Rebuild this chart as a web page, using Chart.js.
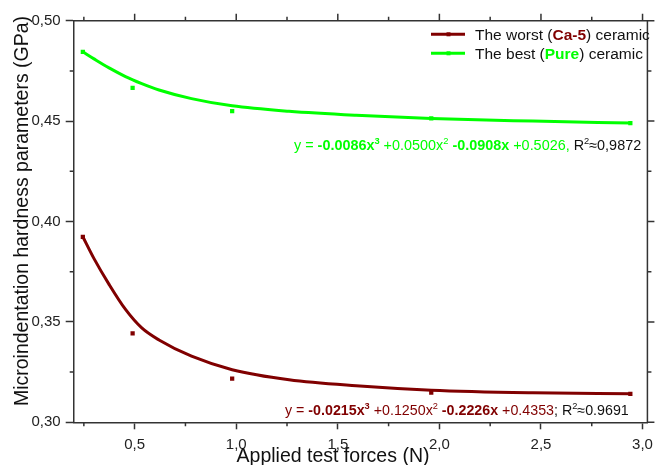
<!DOCTYPE html>
<html>
<head>
<meta charset="utf-8">
<script src="https://cdn.jsdelivr.net/npm/chart.js@4.4.0/dist/chart.umd.min.js"></script>
<style>
  html, body { margin: 0; padding: 0; background: #fff; }
</style>
</head>
<body>
<canvas id="graficoDureza" width="660" height="465"></canvas>
<script>
// Cargas aplicadas (N) y durezas medidas (GPa)
const fuerzas = [0.245, 0.49, 0.98, 1.96, 2.94];
const durezaCa5 = [0.3924, 0.3443, 0.3218, 0.3148, 0.3142];
const durezaPure = [0.4845, 0.4665, 0.4550, 0.4513, 0.4490];

// Curvas de ajuste
const ajusteX = [0.245, 0.30, 0.374, 0.455, 0.535, 0.62, 0.78, 0.98, 1.26, 1.59, 1.96, 2.46, 2.94];
const ajusteCa5 = [0.3924, 0.3815, 0.3687, 0.3562, 0.3470, 0.3410, 0.3329, 0.3262, 0.3212, 0.3182, 0.3160, 0.3147, 0.3142];
const ajustePure = [0.4845, 0.4810, 0.4765, 0.4722, 0.4687, 0.4655, 0.4612, 0.4576, 0.4549, 0.4529, 0.4513, 0.4500, 0.4490];

// Marcas de los ejes
const ticksX = [0.5, 1.0, 1.5, 2.0, 2.5, 3.0];
const menoresX = [0.25, 0.75, 1.25, 1.75, 2.25, 2.75];
const ticksY = [0.30, 0.35, 0.40, 0.45, 0.50];
const menoresY = [0.325, 0.375, 0.425, 0.475];

const ROJO = '#800000';
const VERDE = '#00ff00';
const FUENTE = '"Liberation Sans", Arial, sans-serif';
const EJE = '#333';

const puntos = (xs, ys) => xs.map((v, i) => ({ x: v, y: ys[i] }));
const coma = (v, d) => v.toFixed(d).replace('.', ',');

// Dibuja un texto con partes en negrita / superíndice / colores distintos
function dibujarPartes(ctx, partes, x, y, tam) {
    let cx = x;
    partes.forEach((p) => {
        const t = p.sup ? tam * 0.65 : tam;
        ctx.font = (p.bold ? 'bold ' : '') + t + 'px ' + FUENTE;
        ctx.fillStyle = p.color;
        ctx.fillText(p.t, cx, p.sup ? y - tam * 0.42 : y);
        cx += ctx.measureText(p.t).width;
    });
}

const extras = {
    id: 'extras',
    afterDraw(chart) {
        const { ctx, chartArea: a, scales } = chart;
        const x = scales.x, y = scales.y;
        ctx.save();

        // Marco superior y derecho con sus marcas
        ctx.strokeStyle = EJE;
        ctx.lineWidth = 1.5;
        ctx.beginPath();
        ctx.moveTo(a.left, a.top);
        ctx.lineTo(a.right, a.top);
        ctx.lineTo(a.right, a.bottom);
        ctx.stroke();

        ctx.beginPath();
        ticksX.forEach((v) => {
            const px = x.getPixelForValue(v);
            ctx.moveTo(px, a.top); ctx.lineTo(px, a.top - 7);
        });
        menoresX.forEach((v) => {
            const px = x.getPixelForValue(v);
            ctx.moveTo(px, a.top); ctx.lineTo(px, a.top - 4);
            ctx.moveTo(px, a.bottom); ctx.lineTo(px, a.bottom + 4);
        });
        ticksY.forEach((v) => {
            const py = y.getPixelForValue(v);
            ctx.moveTo(a.right, py); ctx.lineTo(a.right + 7, py);
        });
        menoresY.forEach((v) => {
            const py = y.getPixelForValue(v);
            ctx.moveTo(a.left, py); ctx.lineTo(a.left - 4, py);
            ctx.moveTo(a.right, py); ctx.lineTo(a.right + 4, py);
        });
        ctx.stroke();

        // Títulos de los ejes
        ctx.fillStyle = '#111';
        ctx.font = '19.5px ' + FUENTE;
        ctx.textAlign = 'center';
        ctx.textBaseline = 'middle';
        ctx.fillText('Applied test forces (N)', 333, 457);
        ctx.save();
        ctx.translate(23, 211);
        ctx.rotate(-Math.PI / 2);
        ctx.fillText('Microindentation hardness parameters (GPa)', 0, 0);
        ctx.restore();

        // Leyenda
        ctx.textAlign = 'left';
        ctx.textBaseline = 'alphabetic';
        [[ROJO, 34.3, 'The worst (', 'Ca-5', ') ceramic', 40],
         [VERDE, 53.3, 'The best (', 'Pure', ') ceramic', 59.3]].forEach(([c, ly, t1, t2, t3, by]) => {
            ctx.strokeStyle = c;
            ctx.lineWidth = 3;
            ctx.beginPath();
            ctx.moveTo(431, ly); ctx.lineTo(465, ly);
            ctx.stroke();
            ctx.fillStyle = c;
            ctx.fillRect(446.5, ly - 2, 4, 4);
            dibujarPartes(ctx, [
                { t: t1, color: '#111' },
                { t: t2, color: c, bold: true },
                { t: t3, color: '#111' },
            ], 475, by, 15.5);
        });

        // Ecuaciones de ajuste
        dibujarPartes(ctx, [
            { t: 'y = ', color: VERDE },
            { t: '-0.0086x', color: VERDE, bold: true },
            { t: '3', color: VERDE, bold: true, sup: true },
            { t: ' +0.0500x', color: VERDE },
            { t: '2', color: VERDE, sup: true },
            { t: ' -0.0908x', color: VERDE, bold: true },
            { t: ' +0.5026, ', color: VERDE },
            { t: 'R', color: '#111' },
            { t: '2', color: '#111', sup: true },
            { t: '\u22480,9872', color: '#111' },
        ], 294, 150, 14.4);
        dibujarPartes(ctx, [
            { t: 'y = ', color: ROJO },
            { t: '-0.0215x', color: ROJO, bold: true },
            { t: '3', color: ROJO, bold: true, sup: true },
            { t: ' +0.1250x', color: ROJO },
            { t: '2', color: ROJO, sup: true },
            { t: ' -0.2226x', color: ROJO, bold: true },
            { t: ' +0.4353', color: ROJO },
            { t: '; R', color: '#111' },
            { t: '2', color: '#111', sup: true },
            { t: '\u22480.9691', color: '#111' },
        ], 285, 415, 14.25);

        ctx.restore();
    },
};

new Chart(document.getElementById('graficoDureza'), {
    type: 'scatter',
    data: {
        datasets: [
            {
                label: 'ajuste Ca-5',
                data: puntos(ajusteX, ajusteCa5),
                showLine: true,
                borderColor: ROJO,
                borderWidth: 3,
                pointRadius: 0,
                cubicInterpolationMode: 'monotone',
            },
            {
                label: 'The worst (Ca-5) ceramic',
                data: puntos(fuerzas, durezaCa5),
                pointStyle: 'rect',
                pointRadius: 3,
                backgroundColor: ROJO,
                borderWidth: 0,
            },
            {
                label: 'ajuste Pure',
                data: puntos(ajusteX, ajustePure),
                showLine: true,
                borderColor: VERDE,
                borderWidth: 3,
                pointRadius: 0,
                cubicInterpolationMode: 'monotone',
            },
            {
                label: 'The best (Pure) ceramic',
                data: puntos(fuerzas, durezaPure),
                pointStyle: 'rect',
                pointRadius: 3,
                backgroundColor: VERDE,
                borderWidth: 0,
            },
        ],
    },
    options: {
        responsive: false,
        animation: false,
        devicePixelRatio: 1,
        layout: { padding: { top: 20.7, right: 4, bottom: 0, left: 0 } },
        plugins: { legend: { display: false }, tooltip: { enabled: false } },
        scales: {
            x: {
                type: 'linear',
                min: 0.2,
                max: 3.024,
                afterBuildTicks: (s) => { s.ticks = ticksX.map((v) => ({ value: v })); },
                afterFit: (s) => { s.height = 42.7; },
                ticks: {
                    callback: (v) => coma(v, 1),
                    color: '#222',
                    font: { family: FUENTE, size: 15 },
                    padding: 7,
                    maxRotation: 0,
                    autoSkip: false,
                },
                grid: { drawOnChartArea: false, tickLength: 7, tickColor: EJE, tickWidth: 1.5 },
                border: { color: EJE, width: 1.5 },
            },
            y: {
                min: 0.30,
                max: 0.50,
                afterBuildTicks: (s) => { s.ticks = ticksY.map((v) => ({ value: v })); },
                afterFit: (s) => { s.width = 73.7; },
                ticks: {
                    callback: (v) => coma(v, 2),
                    color: '#222',
                    font: { family: FUENTE, size: 15 },
                    padding: 5,
                    autoSkip: false,
                },
                grid: { drawOnChartArea: false, tickLength: 8, tickColor: EJE, tickWidth: 1.5 },
                border: { color: EJE, width: 1.5 },
            },
        },
    },
    plugins: [extras],
});
</script>
</body>
</html>
